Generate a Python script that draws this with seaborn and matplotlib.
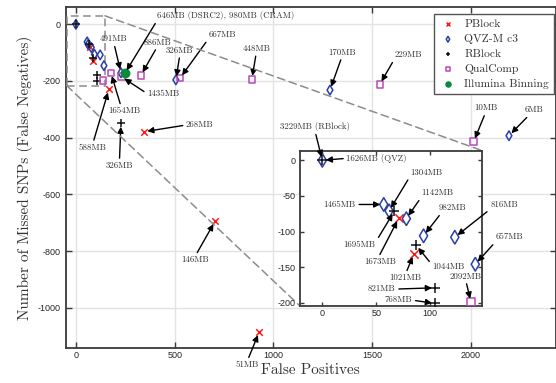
import matplotlib
matplotlib.use("Agg")
import matplotlib.pyplot as plt
import pandas as pd
import seaborn as sns
from matplotlib.patches import Rectangle, ConnectionPatch

# values (false positives, false negatives)
pblock_x = [71, 85, 167, 344, 705, 928]
pblock_y = [-81, -131, -229, -379, -694, -1085]
pblock_lab = ["1673MB", "1021MB", "588MB", "268MB", "146MB", "51MB"]

qvz_x = [0, 57, 62, 78, 94, 123, 142, 228, 506, 1286, 2192]
qvz_y = [0, -62, -71, -82, -106, -108, -146, -171, -196, -232, -393]
qvz_lab = ["1626MB (QVZ)", "1465MB", "1304MB", "1142MB", "982MB", "816MB",
           "657MB", "491MB", "326MB", "170MB", "6MB"]

rblock_x = [0, 67, 87, 105, 105, 228]
rblock_y = [0, -71, -119, -179, -201, -349]
rblock_lab = ["3229MB (RBlock)", "1695MB", "1044MB", "821MB", "768MB", "326MB"]

qual_x = [138, 177, 231, 329, 527, 891, 1538, 2013]
qual_y = [-199, -171, -185, -180, -190, -194, -212, -414]
qual_lab = ["2092MB", "1654MB", "1435MB", "886MB", "667MB", "448MB",
            "229MB", "10MB"]

illum_x = [248]
illum_y = [-173]
illum_lab = ["646MB (DSRC2), 980MB (CRAM)"]

series_names = ["PBlock", "QVZ-M c3", "RBlock", "QualComp", "Illumina Binning"]

# zoom window shown in the inset
INS_XLIM = (-20.7, 148.6)
INS_YLIM = (-204.6, 13.5)
ZOOM_BOX = (-47, -216, 194, 246)

# marker styles: marker, colour, hollow, size main, size inset
STYLE = {
    "PBlock": ("x", "#ff1a1a", False, 22, 36),
    "QVZ-M c3": ("d", "#2a3fa6", True, 24, 48),
    "RBlock": ("+", "#111111", False, 34, 58),
    "QualComp": ("s", "#b948b9", True, 22, 32),
    "Illumina Binning": ("o", "#0a8a3a", False, 36, 40),
}

# label placement: pixel offset of text from point, arrow start on text box
LABEL_POS = {
    ("Illumina Binning", "646MB (DSRC2), 980MB (CRAM)"): (101, 57.6, 0, 0),
    ("QVZ-M c3", "491MB"): (-7, 33.7, 0.5, 0),
    ("QualComp", "886MB"): (16.5, 33, 0.5, 0),
    ("QVZ-M c3", "326MB"): (4, 29.3, 0.5, 0),
    ("QualComp", "667MB"): (42, 43.3, 0, 0),
    ("QualComp", "448MB"): (4.3, 30.6, 0.5, 0),
    ("QualComp", "1435MB"): (41.8, -17, 0, 0.5),
    ("QualComp", "1654MB"): (13.5, -38.3, 0.4, 1),
    ("PBlock", "588MB"): (-16, -58.4, 0.5, 1),
    ("RBlock", "326MB"): (-1.5, -42.4, 0.5, 1),
    ("PBlock", "268MB"): (56, 6.7, 0, 0.5),
    ("QVZ-M c3", "170MB"): (12, 37.7, 0.5, 0),
    ("QualComp", "229MB"): (28.3, 29.3, 0, 0),
    ("QualComp", "10MB"): (12, 33.4, 0.5, 0),
    ("QVZ-M c3", "6MB"): (24.7, 25.7, 0.3, 0),
    ("PBlock", "146MB"): (-19.8, -39, 0.5, 1),
    ("PBlock", "51MB"): (-11.8, -33, 0.5, 1),
    ("RBlock", "3229MB (RBlock)"): (-7.3, 33.6, 0.5, 0),
    ("QVZ-M c3", "1626MB (QVZ)"): (54.4, 2, 0, 0.5),
    ("QVZ-M c3", "1304MB"): (36.8, 38.4, 0, 0),
    ("QVZ-M c3", "1142MB"): (30.8, 25.6, 0, 0),
    ("QVZ-M c3", "982MB"): (29.3, 27.7, 0.1, 0),
    ("QVZ-M c3", "816MB"): (49.3, 32.3, 0, 0),
    ("QVZ-M c3", "657MB"): (34.3, 27, 0, 0),
    ("QVZ-M c3", "1465MB"): (-44, 0, 1, 0.5),
    ("RBlock", "1695MB"): (-35, -34, 1, 0.8),
    ("PBlock", "1673MB"): (-19, -44, 0.45, 1),
    ("RBlock", "1044MB"): (32.7, -21.3, 0, 0.6),
    ("PBlock", "1021MB"): (-8.2, -24.4, 0.5, 1),
    ("RBlock", "821MB"): (-53.6, -1.3, 1, 0.5),
    ("RBlock", "768MB"): (-37, 3.3, 1, 0.5),
    ("QualComp", "2092MB"): (-5.2, 25.7, 0.5, 0),
}

rows = []
for name, xs, ys, labs in zip(series_names,
                              [pblock_x, qvz_x, rblock_x, qual_x, illum_x],
                              [pblock_y, qvz_y, rblock_y, qual_y, illum_y],
                              [pblock_lab, qvz_lab, rblock_lab, qual_lab, illum_lab]):
    for x, y, lab in zip(xs, ys, labs):
        rows.append({"method": name, "fp": x, "fn": y, "size": lab})
df = pd.DataFrame(rows)

sns.set_theme(style="white")
plt.rcParams["font.family"] = ["Liberation Sans", "DejaVu Sans"]
plt.rcParams["axes.unicode_minus"] = False
plt.rcParams["axes.grid"] = False
SERIF = ["cmr10", "Liberation Serif", "DejaVu Serif"]
SPINE = "#3a3a3a"

fig = plt.figure(figsize=(5.56, 3.83), dpi=100)
ax = fig.add_axes([0.118, 0.092, 0.882, 0.889])
axins = fig.add_axes([0.5396, 0.201, 0.328, 0.4055])
axins.set_zorder(3)


def style_axes(a, pad_x, pad_y, length):
    a.set_facecolor("white")
    for sp in a.spines.values():
        sp.set_color(SPINE)
        sp.set_linewidth(1.3)
        sp.set_visible(True)
    a.tick_params(direction="in", length=length, width=1, color=SPINE,
                  top=True, right=True, bottom=True, left=True,
                  labelsize=6.5, labelcolor="#262626")
    a.tick_params(axis="x", pad=pad_x)
    a.tick_params(axis="y", pad=pad_y)


def draw_points(a, inset):
    for name in series_names:
        mk, col, hollow, s_main, s_ins = STYLE[name]
        sub = df[df["method"] == name]
        kw = dict(marker=mk, s=s_ins if inset else s_main, color=col,
                  edgecolor=col, linewidth=1.1, zorder=4)
        if hollow:
            kw["facecolor"] = "none"
        sns.scatterplot(data=sub, x="fp", y="fn", ax=a,
                        label=None if inset else name, legend=False, **kw)


draw_points(ax, False)
draw_points(axins, True)

# main axes
ax.set_xlim(-52, 2430)
ax.set_ylim(-1141, 60)
ax.set_xticks([0, 500, 1000, 1500, 2000])
ax.set_yticks([0, -200, -400, -600, -800, -1000])
style_axes(ax, 2.5, 3.5, 4)
ax.grid(True, color="#e3e3e3", lw=1.0)
ax.set_axisbelow(True)
ax.set_xlabel("False Positives", family=SERIF, fontsize=11, color="#333333",
              labelpad=2)
ax.set_ylabel("Number of Missed SNPs (False Negatives)", family=SERIF,
              fontsize=11, color="#333333", labelpad=3.5)

# inset axes
axins.set_xlim(*INS_XLIM)
axins.set_ylim(*INS_YLIM)
axins.set_xticks([0, 50, 100])
axins.set_yticks([0, -50, -100, -150, -200])
style_axes(axins, 2.5, 3, 3)
axins.set_xlabel("")
axins.set_ylabel("")
axins.grid(False)

# zoom box and connector lines
dash = dict(color="#8c8c8c", lw=1.1, ls=(0, (5, 3)))
bx, by, bw, bh = ZOOM_BOX
ax.add_patch(Rectangle((bx, by), bw, bh, fill=False, zorder=3, **dash))
for pa, pb in [((bx + bw, by + bh), (1, 1)), ((bx, by), (0, 0))]:
    con = ConnectionPatch(xyA=pa, coordsA=ax.transData, xyB=pb,
                          coordsB=axins.transAxes, zorder=2, **dash)
    fig.add_artist(con)

# size annotations
for _, r in df.iterrows():
    dx, dy, rx, ry = LABEL_POS[(r["method"], r["size"])]
    in_zoom = (INS_XLIM[0] < r["fp"] < INS_XLIM[1]
               and INS_YLIM[0] < r["fn"] < INS_YLIM[1])
    a = axins if in_zoom else ax
    a.annotate(r["size"], xy=(r["fp"], r["fn"]), xytext=(dx, dy),
               textcoords="offset pixels", ha="center", va="center",
               fontsize=6.4, family=SERIF, color="#333333",
               annotation_clip=False, zorder=5,
               arrowprops=dict(arrowstyle="-|>", color="black", lw=1.0,
                               mutation_scale=9, shrinkA=0, shrinkB=2.5,
                               relpos=(rx, ry)))

leg = ax.legend(loc="upper right", bbox_to_anchor=(0.996, 0.980),
                borderaxespad=0, prop={"family": SERIF, "size": 8.3},
                frameon=True, fancybox=False, framealpha=1,
                edgecolor="#555555", markerscale=0.6, handlelength=1.6,
                handletextpad=0.6, labelspacing=0.42, borderpad=0.45)
leg.get_frame().set_linewidth(1.0)
for t in leg.get_texts():
    t.set_color("#333333")

fig.savefig("out.png", dpi=100)
